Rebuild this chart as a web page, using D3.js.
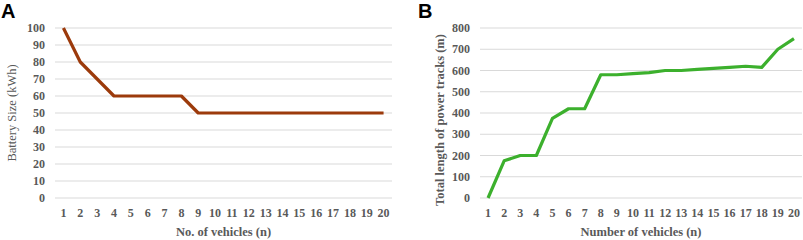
<!DOCTYPE html>
<html lang="en">
<head>
<meta charset="UTF-8">
<title>Battery size and power tracks</title>
<script src="https://d3js.org/d3.v7.min.js"></script>
<style>
    body { margin: 0; padding: 0; background: #fff; }
    svg { display: block; }
    .tick-label { font-family: "Liberation Serif", serif; font-size: 12px; font-weight: bold; fill: #595959; }
    .axis-title { font-family: "Liberation Serif", serif; font-size: 12.5px; fill: #595959; }
    .panel-label { font-family: "Liberation Sans", Arial, sans-serif; font-size: 20px; font-weight: bold; fill: #000; }
</style>
</head>
<body>
<script>
    // data
    const vehicles = d3.range(1, 21);
    const batterySize = [100, 80, 70, 60, 60, 60, 60, 60, 50, 50, 50, 50, 50, 50, 50, 50, 50, 50, 50, 50];
    const trackLength = [0, 175, 200, 200, 375, 420, 420, 580, 580, 585, 590, 600, 600, 605, 610, 615, 620, 615, 700, 750];
    const batteryTicks = [0, 10, 20, 30, 40, 50, 60, 70, 80, 90, 100];
    const trackTicks = [0, 100, 200, 300, 400, 500, 600, 700, 800];

    const svg = d3.select("body").append("svg")
        .attr("width", 803)
        .attr("height", 240);

    function drawPanel(opt) {
        const g = svg.append("g");
        const x = d3.scaleBand().domain(vehicles).range([opt.left, opt.right]);
        const y = d3.scaleLinear().domain([0, opt.max]).range([198, 28]);

        // gridlines
        g.selectAll(".grid").data(opt.ticks).join("line")
            .attr("x1", opt.left).attr("x2", opt.right)
            .attr("y1", d => y(d)).attr("y2", d => y(d))
            .attr("stroke", "#d9d9d9").attr("stroke-width", 1);

        // y tick labels
        g.selectAll(".ylab").data(opt.ticks).join("text")
            .attr("class", "tick-label")
            .attr("x", opt.left - 10)
            .attr("y", d => y(d) + 4)
            .attr("text-anchor", "end")
            .text(d => d);

        // x tick labels
        g.selectAll(".xlab").data(vehicles).join("text")
            .attr("class", "tick-label")
            .attr("x", d => x(d) + x.bandwidth() / 2)
            .attr("y", 217)
            .attr("text-anchor", "middle")
            .text(d => d);

        // line
        const line = d3.line()
            .x((d, i) => x(vehicles[i]) + x.bandwidth() / 2)
            .y(d => y(d));
        g.append("path")
            .datum(opt.values)
            .attr("fill", "none")
            .attr("stroke", opt.color)
            .attr("stroke-width", 3.2)
            .attr("stroke-linejoin", "round")
            .attr("d", line);

        // axis titles
        g.append("text")
            .attr("class", "axis-title")
            .attr("x", (opt.left + opt.right) / 2)
            .attr("y", 236)
            .attr("text-anchor", "middle")
            .style("font-weight", "bold")
            .text(opt.xTitle);

        g.append("text")
            .attr("class", "axis-title")
            .attr("transform", `translate(${opt.yTitleX},${opt.yTitleY}) rotate(-90)`)
            .attr("text-anchor", "middle")
            .style("font-weight", opt.yBold ? "bold" : "normal")
            .text(opt.yTitle);

        g.append("text")
            .attr("class", "panel-label")
            .attr("x", opt.labelX)
            .attr("y", 18)
            .text(opt.label);
    }

    drawPanel({
        left: 55, right: 392, max: 100, ticks: batteryTicks, values: batterySize,
        color: "#9c3a0b", xTitle: "No. of vehicles (n)", yTitle: "Battery Size (kWh)",
        yTitleX: 16, yTitleY: 113, yBold: false, label: "A", labelX: 1
    });

    drawPanel({
        left: 480, right: 802, max: 800, ticks: trackTicks, values: trackLength,
        color: "#3cb02d", xTitle: "Number of vehicles (n)", yTitle: "Total length of power tracks (m)",
        yTitleX: 444, yTitleY: 120, yBold: true, label: "B", labelX: 418
    });
</script>
</body>
</html>
